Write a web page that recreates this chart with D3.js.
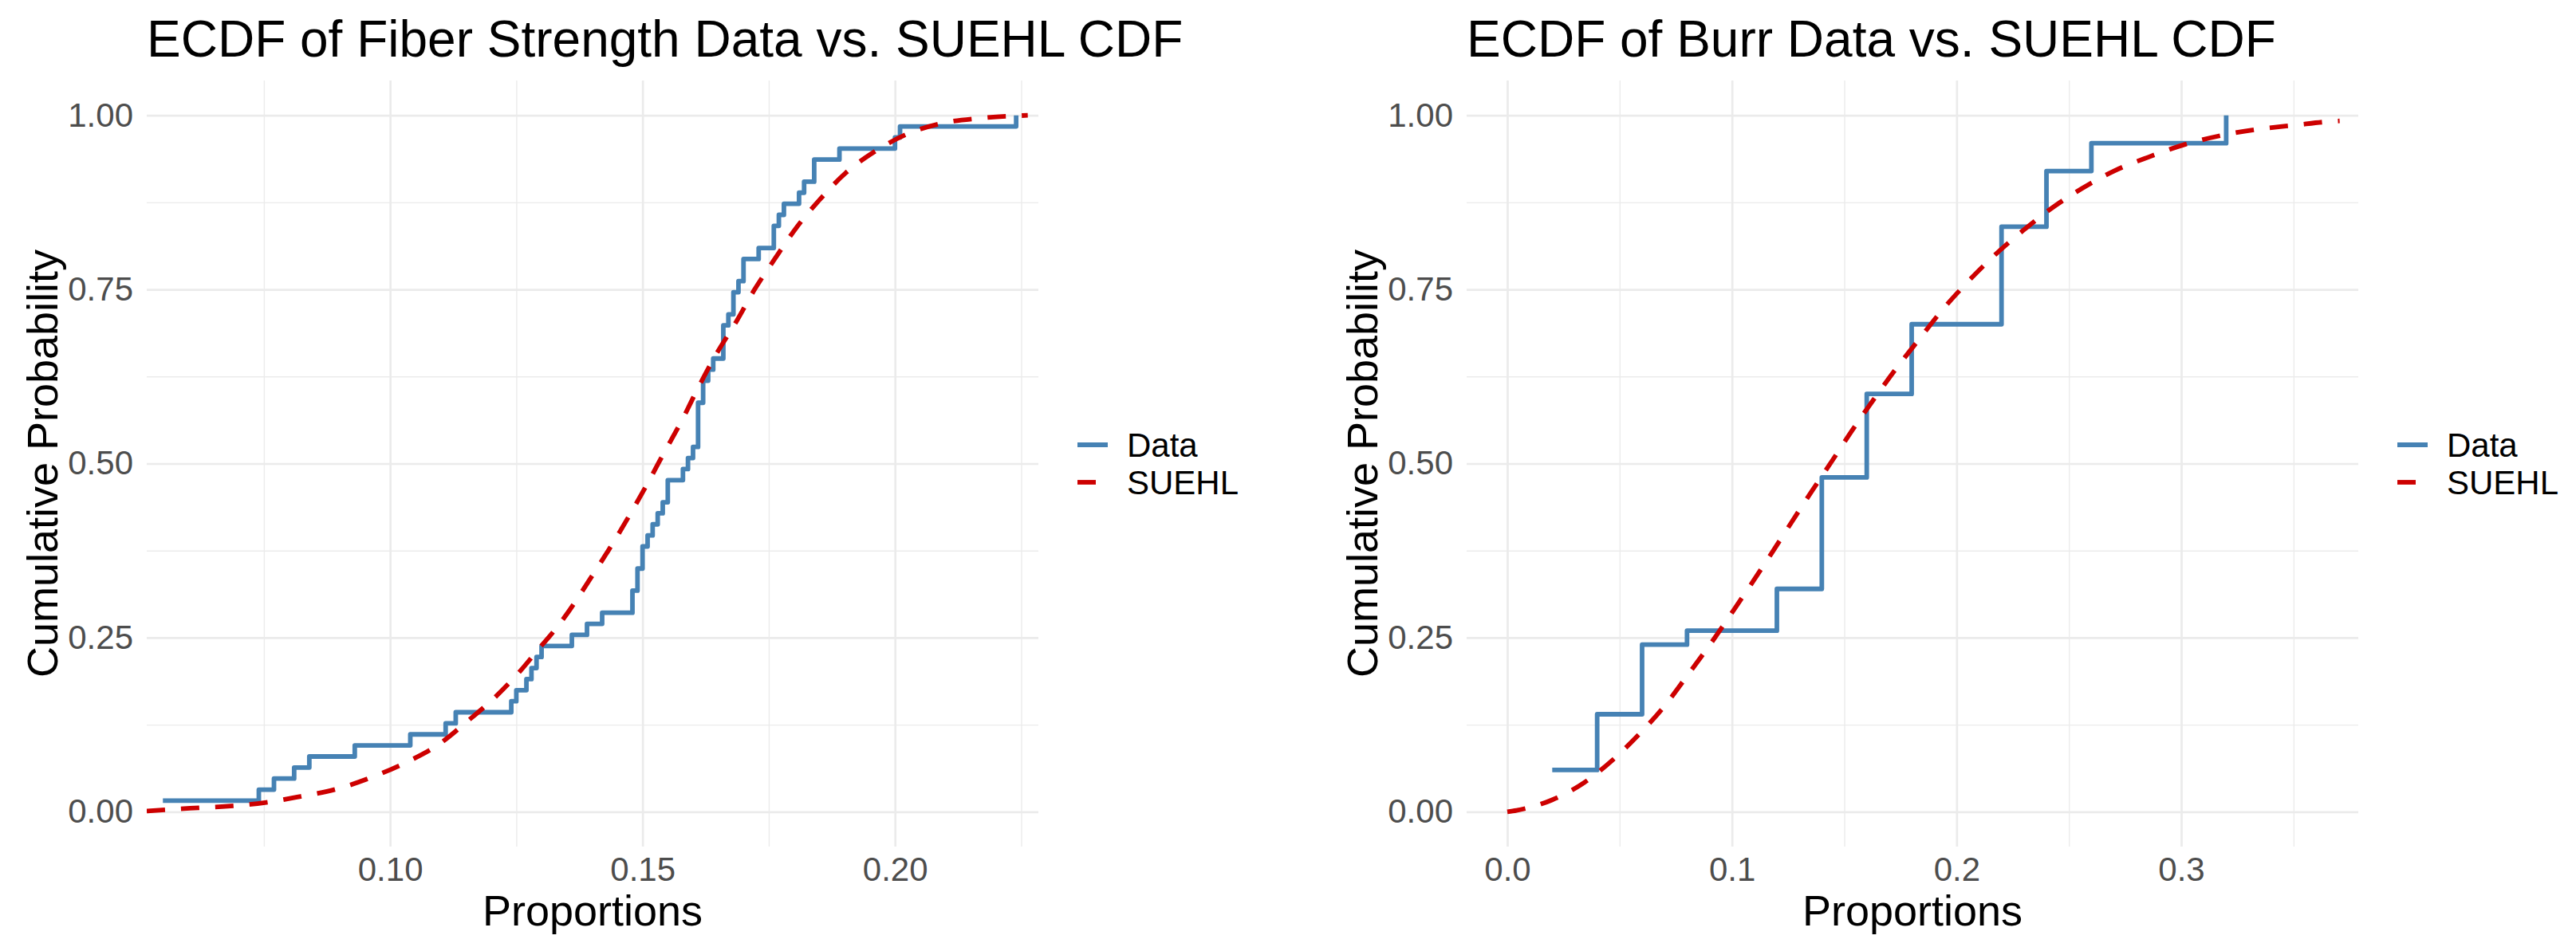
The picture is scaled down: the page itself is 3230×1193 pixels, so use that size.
<!DOCTYPE html>
<html lang="en">
<head>
<meta charset="UTF-8">
<title>ECDF vs. SUEHL CDF</title>
<script src="https://cdnjs.cloudflare.com/ajax/libs/d3/7.8.5/d3.min.js"></script>
<style>
  body { margin: 0; background: #fff; }
  svg { font-family: "Liberation Sans", Arial, Helvetica, sans-serif; }
  .grid-major line { stroke: #ebebeb; stroke-width: 2.7; }
  .grid-minor line { stroke: #ebebeb; stroke-width: 1.35; }
  .grid-major path, .grid-minor path, .ticks path { display: none; }
  .ticks text { fill: #4d4d4d; font-size: 42px; font-family: "Liberation Sans", Arial, sans-serif; }
  .ecdf { fill: none; stroke: #4682b4; stroke-width: 5.8; stroke-linejoin: round; }
  .suehl { fill: none; stroke: #cd0000; stroke-width: 5.8; stroke-dasharray: 23 20; }
</style>
</head>
<body>
<div id="chart"></div>
<script>
// observed fiber strength proportions (one per step of the ECDF)
const fiberValues = [
  0.055, 0.074, 0.077, 0.081, 0.084, 0.093, 0.104, 0.111, 0.113, 0.124,
  0.125, 0.127, 0.128, 0.129, 0.130, 0.136, 0.139, 0.142, 0.148, 0.148,
  0.149, 0.149, 0.150, 0.150, 0.151, 0.152, 0.153, 0.154, 0.155, 0.155,
  0.158, 0.159, 0.160, 0.161, 0.161, 0.161, 0.161, 0.162, 0.162, 0.163,
  0.164, 0.166, 0.166, 0.166, 0.167, 0.168, 0.168, 0.169, 0.170, 0.170,
  0.173, 0.176, 0.176, 0.177, 0.178, 0.181, 0.182, 0.184, 0.184, 0.189,
  0.200, 0.201, 0.224
];

// observed burr proportions
const burrValues = [
  0.02, 0.02, 0.02, 0.04, 0.04, 0.04, 0.04, 0.06, 0.06, 0.06, 0.06, 0.06,
  0.08, 0.12, 0.12, 0.12, 0.14, 0.14, 0.14, 0.14, 0.14, 0.14, 0.14, 0.14,
  0.16, 0.16, 0.16, 0.16, 0.16, 0.16, 0.18, 0.18, 0.18, 0.18, 0.18,
  0.22, 0.22, 0.22, 0.22, 0.22, 0.22, 0.22, 0.24, 0.24, 0.24, 0.24,
  0.26, 0.26, 0.32, 0.32
];

// fitted SUEHL CDF
const fiberSuehlX = [0.0518, 0.0604, 0.0678, 0.0752, 0.0823, 0.0896, 0.0965, 0.1032, 0.1095, 0.1155,
  0.1210, 0.1260, 0.1298, 0.1316, 0.1354, 0.1395, 0.1433, 0.1472, 0.1508, 0.1543, 0.1578,
  0.1611, 0.1646, 0.1685, 0.1722, 0.1762, 0.1804, 0.1851, 0.1902, 0.1962, 0.2027, 0.2096,
  0.2170, 0.2263];
const fiberSuehlF = [0.001, 0.005, 0.008, 0.013, 0.022, 0.033, 0.050, 0.071, 0.096, 0.131,
  0.166, 0.204, 0.237, 0.252, 0.288, 0.333, 0.376, 0.423, 0.469, 0.516, 0.562,
  0.610, 0.657, 0.703, 0.750, 0.794, 0.838, 0.879, 0.917, 0.949, 0.974, 0.989,
  0.996, 1.000];

const burrSuehlX = [0.0000, 0.0041, 0.0199, 0.0343, 0.0471, 0.0592, 0.0700, 0.0800, 0.0900, 0.0994,
  0.1086, 0.1174, 0.1264, 0.1355, 0.1446, 0.1538, 0.1633, 0.1730, 0.1832, 0.1935, 0.2044,
  0.2162, 0.2290, 0.2416, 0.2553, 0.2700, 0.2854, 0.3014, 0.3177, 0.3340, 0.3510, 0.3656, 0.3705];
const burrSuehlF = [0.000, 0.002, 0.017, 0.042, 0.075, 0.113, 0.152, 0.195, 0.239, 0.283,
  0.327, 0.370, 0.415, 0.460, 0.504, 0.549, 0.593, 0.636, 0.678, 0.720, 0.759,
  0.797, 0.833, 0.865, 0.894, 0.920, 0.940, 0.958, 0.971, 0.980, 0.986, 0.991, 0.992];

const yTicks = [0, 0.25, 0.5, 0.75, 1];
const yMinor = [0.125, 0.375, 0.625, 0.875];
const seriesNames = ["Data", "SUEHL"];

const W = 3230, H = 1193;
const panelTop = 101, panelBottom = 1062;

const svg = d3.select("#chart").append("svg")
  .attr("width", W)
  .attr("height", H)
  .attr("viewBox", `0 0 ${W} ${H}`);

svg.append("rect").attr("width", W).attr("height", H).attr("fill", "#fff");

// ecdf steps: one point per distinct value, height = share of values <= it
function ecdfPoints(values) {
  const sorted = values.slice().sort(d3.ascending);
  const n = sorted.length;
  return Array.from(new Set(sorted)).map(v => [v, d3.bisectRight(sorted, v) / n]);
}

const panels = [
  {
    id: "fiber",
    title: "ECDF of Fiber Strength Data vs. SUEHL CDF",
    left: 184, right: 1302,
    xDomain: [0.0518, 0.2284],
    xTicks: [0.10, 0.15, 0.20],
    xMinor: [0.075, 0.125, 0.175, 0.225],
    xFormat: d3.format(".2f"),
    values: fiberValues,
    curveX: fiberSuehlX, curveF: fiberSuehlF
  },
  {
    id: "burr",
    title: "ECDF of Burr Data vs. SUEHL CDF",
    left: 1839, right: 2957,
    xDomain: [-0.0181, 0.3788],
    xTicks: [0, 0.1, 0.2, 0.3],
    xMinor: [0.05, 0.15, 0.25, 0.35],
    xFormat: d3.format(".1f"),
    values: burrValues,
    curveX: burrSuehlX, curveF: burrSuehlF
  }
];

panels.forEach(p => {
  const x = d3.scaleLinear().domain(p.xDomain).range([p.left, p.right]);
  const y = d3.scaleLinear().domain([-0.05, 1.05]).range([panelBottom, panelTop]);
  const pw = p.right - p.left, ph = panelBottom - panelTop;
  const g = svg.append("g");

  // grid: minor first, major on top
  g.append("g").attr("class", "grid-minor")
    .attr("transform", `translate(0,${panelBottom})`)
    .call(d3.axisBottom(x).tickValues(p.xMinor).tickSize(-ph).tickFormat(""));
  g.append("g").attr("class", "grid-minor")
    .attr("transform", `translate(${p.left},0)`)
    .call(d3.axisLeft(y).tickValues(yMinor).tickSize(-pw).tickFormat(""));
  g.append("g").attr("class", "grid-major")
    .attr("transform", `translate(0,${panelBottom})`)
    .call(d3.axisBottom(x).tickValues(p.xTicks).tickSize(-ph).tickFormat(""));
  g.append("g").attr("class", "grid-major")
    .attr("transform", `translate(${p.left},0)`)
    .call(d3.axisLeft(y).tickValues(yTicks).tickSize(-pw).tickFormat(""));

  // tick labels
  g.append("g").attr("class", "ticks")
    .attr("transform", `translate(0,${panelBottom})`)
    .call(d3.axisBottom(x).tickValues(p.xTicks).tickSize(0).tickPadding(13).tickFormat(p.xFormat))
    .selectAll("line").remove();
  g.append("g").attr("class", "ticks")
    .attr("transform", `translate(${p.left},0)`)
    .call(d3.axisLeft(y).tickValues(yTicks).tickSize(0).tickPadding(17).tickFormat(d3.format(".2f")))
    .selectAll("line").remove();

  // clip to panel
  svg.append("clipPath").attr("id", "clip-" + p.id)
    .append("rect").attr("x", p.left).attr("y", panelTop).attr("width", pw).attr("height", ph);
  const plot = g.append("g").attr("clip-path", `url(#clip-${p.id})`);

  const step = d3.line().x(d => x(d[0])).y(d => y(d[1])).curve(d3.curveStepAfter);
  plot.append("path").attr("class", "ecdf").attr("d", step(ecdfPoints(p.values)));

  const smooth = d3.line().x(d => x(d[0])).y(d => y(d[1])).curve(d3.curveMonotoneX);
  plot.append("path").attr("class", "suehl").attr("d", smooth(d3.zip(p.curveX, p.curveF)));

  // titles
  g.append("text")
    .attr("x", p.left).attr("y", 71)
    .attr("font-size", 64).attr("fill", "#000")
    .text(p.title);
  g.append("text")
    .attr("x", (p.left + p.right) / 2).attr("y", 1161)
    .attr("text-anchor", "middle")
    .attr("font-size", 54).attr("fill", "#000")
    .text("Proportions");
  g.append("text")
    .attr("transform", `translate(${p.left - 112},${(panelTop + panelBottom) / 2}) rotate(-90)`)
    .attr("text-anchor", "middle")
    .attr("font-size", 54).attr("fill", "#000")
    .text("Cumulative Probability");

  // legend
  const legend = g.append("g").attr("transform", `translate(${p.right + 49},0)`);
  const keyY = [558, 605];
  legend.selectAll("line.key")
    .data(seriesNames)
    .join("line")
    .attr("class", (d, i) => i === 0 ? "ecdf" : "suehl")
    .attr("x1", 0).attr("x2", 38)
    .attr("y1", (d, i) => keyY[i]).attr("y2", (d, i) => keyY[i]);
  legend.selectAll("text")
    .data(seriesNames)
    .join("text")
    .attr("x", 62)
    .attr("y", (d, i) => keyY[i] + 15)
    .attr("font-size", 42).attr("fill", "#000")
    .text(d => d);
});
</script>
</body>
</html>
